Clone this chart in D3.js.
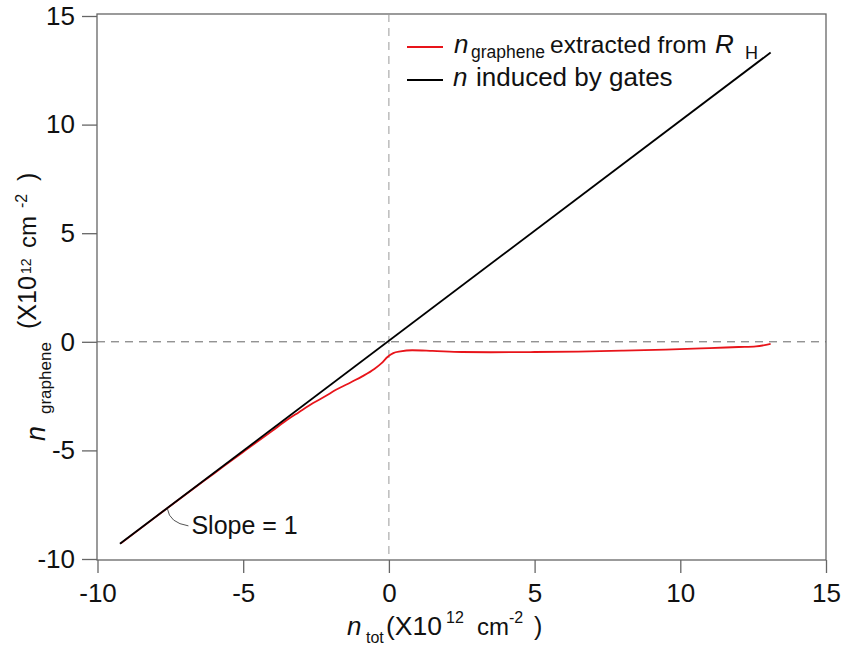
<!DOCTYPE html>
<html><head><meta charset="utf-8">
<script src="https://cdn.jsdelivr.net/npm/d3@7"></script>
<style>body{margin:0;background:#fff}svg{display:block}text{font-family:"Liberation Sans",Arial,sans-serif}</style>
</head><body>
<svg id="c" width="843" height="646"></svg>
<script>
const xTicks = [-10, -5, 0, 5, 10, 15];
const yTicks = [-10, -5, 0, 5, 10, 15];
const gatesX = [-9.23, 13.1];
const gatesY = [-9.3, 13.32];
const grapheneX = [-9.2, -8, -7, -6, -5, -4, -3.5, -3.1, -2.6, -2.2, -1.8, -1.3, -0.9, -0.5, -0.25, -0.05, 0.15, 0.4, 0.8, 1.5, 2.5, 3.5, 5, 6.5, 8, 9.5, 11, 12, 12.6, 13.1];
const grapheneY = [-9.28, -8.06, -7.05, -6.06, -5.07, -4.1, -3.6, -3.25, -2.82, -2.52, -2.2, -1.86, -1.58, -1.25, -0.98, -0.7, -0.52, -0.44, -0.39, -0.42, -0.47, -0.48, -0.47, -0.45, -0.41, -0.36, -0.29, -0.24, -0.21, -0.1];
const slopeLabel = "Slope = 1";

const svg = d3.select("#c");
const x = d3.scaleLinear().domain([-10, 15]).range([97.5, 826]);
const y = d3.scaleLinear().domain([-10, 15]).range([559, 16]);
const axisCol = "#666";
const txtCol = "#111";

// frame
svg.append("rect").attr("x", 97).attr("y", 14).attr("width", 729).attr("height", 546)
  .attr("fill", "none").attr("stroke", axisCol).attr("stroke-width", 1.3);

// dashed zero lines
svg.append("line").attr("x1", 97).attr("x2", 826).attr("y1", y(0)).attr("y2", y(0))
  .attr("stroke", "#666").attr("stroke-dasharray", "8,6").attr("stroke-width", 1);
svg.append("line").attr("x1", x(0)).attr("x2", x(0)).attr("y1", 14).attr("y2", 560)
  .attr("stroke", "#999").attr("stroke-dasharray", "8,6").attr("stroke-width", 1);

// axes
const fmt = d => String(d);
const xa = svg.append("g").attr("transform", "translate(0,560)")
  .call(d3.axisBottom(x).tickValues(xTicks).tickSize(13).tickPadding(11).tickFormat(fmt));
const ya = svg.append("g").attr("transform", "translate(97,0)")
  .call(d3.axisLeft(y).tickValues(yTicks).tickSize(15).tickPadding(7).tickFormat(fmt));
[xa, ya].forEach(g => {
  g.select(".domain").remove();
  g.selectAll("line").attr("stroke", axisCol).attr("stroke-width", 1.3);
  g.selectAll("text").attr("font-size", 26).attr("fill", txtCol)
    .attr("font-family", "'Liberation Sans',Arial,sans-serif");
});

// lines
const line = d3.line().x(d => x(d[0])).y(d => y(d[1]));
svg.append("path").datum(grapheneX.map((v, i) => [v, grapheneY[i]]))
  .attr("d", d3.line().x(d => x(d[0])).y(d => y(d[1])).curve(d3.curveMonotoneX))
  .attr("fill", "none").attr("stroke", "#e8141a").attr("stroke-width", 1.8);
svg.append("path").datum(gatesX.map((v, i) => [v, gatesY[i]]))
  .attr("d", line).attr("fill", "none").attr("stroke", "#000").attr("stroke-width", 1.8);

// slope annotation
const ax0 = -7.6;
const px = x(ax0), py = y(ax0);
svg.append("path").attr("d", `M${px},${py + 2} Q${px + 2},${py + 16} ${px + 21},${py + 19}`)
  .attr("fill", "none").attr("stroke", "#555").attr("stroke-width", 1);
svg.append("text").attr("x", px + 24).attr("y", py + 27).attr("font-size", 25).attr("fill", txtCol).text(slopeLabel);

function piece(parent, xp, yp, size, str, italic) {
  const t = parent.append("text").attr("x", xp).attr("y", yp).attr("font-size", size).attr("fill", txtCol).text(str);
  if (italic) t.attr("font-style", "italic");
  return t;
}

// legend
const lg = svg.append("g");
lg.append("line").attr("x1", 407).attr("x2", 443).attr("y1", 47).attr("y2", 47).attr("stroke", "#e8141a").attr("stroke-width", 1.8);
lg.append("line").attr("x1", 407).attr("x2", 443).attr("y1", 80).attr("y2", 80).attr("stroke", "#000").attr("stroke-width", 1.8);
piece(lg, 454, 53, 26, "n", true);
piece(lg, 471, 58, 17.5, "graphene");
piece(lg, 550, 53, 24.5, "extracted from");
piece(lg, 715, 53, 26, "R", true);
piece(lg, 745, 59, 18, "H");
piece(lg, 453, 86, 26, "n", true);
piece(lg, 476, 86, 26, "induced by gates");

// x title
const xt = svg.append("g");
piece(xt, 347, 635, 26, "n", true);
piece(xt, 366, 643, 16, "tot");
piece(xt, 386, 635, 26.5, "(X10");
piece(xt, 446, 623, 16, "12");
piece(xt, 477, 635, 24, "cm");
piece(xt, 509, 623, 16, "-2");
piece(xt, 534, 635, 25, ")");

// y title (rotated)
const yt = svg.append("g").attr("transform", "rotate(-90)");
piece(yt, -441, 45, 27, "n", true);
piece(yt, -414, 51, 17, "graphene");
piece(yt, -329, 36, 25, "(X10");
piece(yt, -274, 31, 14, "12");
piece(yt, -248, 36, 24, "cm");
piece(yt, -208, 27, 16, "-2");
piece(yt, -181, 36, 25, ")");
</script>
</body></html>
